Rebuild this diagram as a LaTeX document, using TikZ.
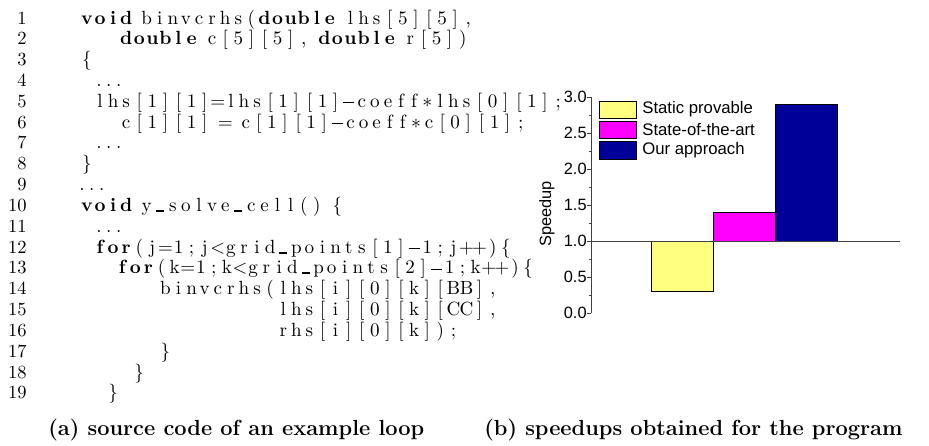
\documentclass[tikz,border=0pt]{standalone}
\usepackage{fontspec}
\newfontfamily\chartfont{Liberation Sans}

% ---------- fixed-column code typesetting ----------
% every character sits centred in a column of width \cw,
% a space (~) takes a narrower fixed skip
\newlength\cw
\newlength\spw
\setlength\cw{7.2pt}
\setlength\spw{4.1pt}
\newcommand\cbox[1]{\hbox to\cw{\hss#1\hss}}
\makeatletter
\def\B{B@kw}\def\R{R@kw}\def\cl@end{E@kw}
\def\cl@loop#1{%
  \ifx#1\cl@end \let\cl@next\relax
  \else
    \ifx#1\B \bfseries
    \else\ifx#1\R \mdseries
    \else\ifx#1~\hbox to\spw{}%
    \else \cbox{#1}%
    \fi\fi\fi
    \let\cl@next\cl@loop
  \fi\cl@next}
\newcommand\codeline[1]{\cl@loop#1\cl@end}
\makeatother
% minus sign, asterisk, underscore and elision dots as the listing prints them
\newcommand\M{\rule[0.235em]{0.58em}{0.04em}}
\newcommand\A{\ensuremath{\ast}}
\newcommand\U{\rule[-0.02em]{0.42em}{0.1em}}
\newcommand\elide{.\kern2.5pt.\kern2.5pt.}

\definecolor{barYellow}{RGB}{255,255,128}
\definecolor{barMagenta}{RGB}{255,0,255}
\definecolor{barBlue}{RGB}{0,0,153}

\begin{document}
\begin{tikzpicture}[x=0.55pt,y=-0.55pt,
  lnum/.style={anchor=base east,inner sep=0pt,font=\fontsize{10.2}{12}\selectfont},
  codeln/.style={anchor=base west,inner sep=0pt,font=\fontsize{10.5}{12.5}\selectfont},
  tick/.style={anchor=east,inner sep=0pt,font=\chartfont\fontsize{9}{11}\selectfont},
  legtext/.style={anchor=west,inner sep=0pt,font=\chartfont\fontsize{9.2}{11}\selectfont},
  legbox/.style={draw=black,line width=0.5pt},
  bar/.style={draw=black,line width=0.5pt},
  axisline/.style={line width=0.5pt,black!75},
  caption/.style={anchor=base west,inner sep=0pt,font=\fontsize{12}{14}\selectfont\bfseries}]
\useasboundingbox (0,0) rectangle (929,445);

\def\Xo{80}
\def\Cw{13.09}
\def\Yo{24}
\def\Lh{20.83}

% line numbers
\foreach \i in {1,...,19}
  \node[lnum] (n\i) at (27,{\Yo+(\i-1)*\Lh}) {\i};

% code lines, placed by starting column and line
\node[codeln] (c1)  at ({\Xo+0*\Cw},{\Yo+0*\Lh})  {\codeline{\B void\R~binvcrhs(\B double\R~lhs[5][5],}};
\node[codeln] (c2)  at ({\Xo+3*\Cw},{\Yo+1*\Lh})  {\codeline{\B double\R~c[5][5],~\B double\R~r[5])}};
\node[codeln] (c3)  at ({\Xo+0*\Cw},{\Yo+2*\Lh})  {\codeline{\{}};
\node[codeln] (c4)  at (96,{\Yo+3*\Lh})           {\elide};
\node[codeln] (c5)  at ({\Xo+1*\Cw},{\Yo+4*\Lh})  {\codeline{lhs[1][1]=lhs[1][1]\M coeff\A lhs[0][1];}};
\node[codeln] (c6)  at ({\Xo+3*\Cw},{\Yo+5*\Lh})  {\codeline{c[1][1]~=~c[1][1]\M coeff\A c[0][1];}};
\node[codeln] (c7)  at (96,{\Yo+6*\Lh})           {\elide};
\node[codeln] (c8)  at ({\Xo+0*\Cw},{\Yo+7*\Lh})  {\codeline{\}}};
\node[codeln] (c9)  at (79,{\Yo+8*\Lh})           {\elide};
\node[codeln] (c10) at ({\Xo+0*\Cw},{\Yo+9*\Lh})  {\codeline{\B void\R~y\U solve\U cell()~\{}};
\node[codeln] (c11) at (96,{\Yo+10*\Lh})          {\elide};
\node[codeln] (c12) at ({\Xo+1*\Cw},{\Yo+11*\Lh}) {\codeline{\B for\R(j=1;j<grid\U points[1]\M 1;j++)\{}};
\node[codeln] (c13) at ({\Xo+2.7*\Cw},{\Yo+12*\Lh}) {\codeline{\B for\R(k=1;k<grid\U points[2]\M 1;k++)\{}};
\node[codeln] (c14) at ({\Xo+6*\Cw},{\Yo+13*\Lh}) {\codeline{binvcrhs(lhs[i][0][k][BB],}};
\node[codeln] (c15) at ({\Xo+15*\Cw},{\Yo+14*\Lh}) {\codeline{lhs[i][0][k][CC],}};
\node[codeln] (c16) at ({\Xo+15*\Cw},{\Yo+15*\Lh}) {\codeline{rhs[i][0][k]);}};
\node[codeln] (c17) at ({\Xo+6*\Cw},{\Yo+16*\Lh}) {\codeline{\}}};
\node[codeln] (c18) at ({\Xo+4*\Cw},{\Yo+17*\Lh}) {\codeline{\}}};
\node[codeln] (c19) at ({\Xo+2*\Cw},{\Yo+18*\Lh}) {\codeline{\}}};

% ---------- speedup chart ----------
% a value v sits at y = 313 - 72 v
\draw[axisline] (591,313) coordinate (ax0) -- (591,{313-72*3}) coordinate (ax3);
\foreach \v in {0,0.5,...,3.0}
  \draw[axisline] (591,{313-72*\v}) -- ++(-4,0);
\foreach \v in {0.25,0.75,...,2.75}
  \draw[axisline] (591,{313-72*\v}) -- ++(-2.5,0);
\foreach \v/\t in {0/0.0,0.5/0.5,1/1.0,1.5/1.5,2/2.0,2.5/2.5,3/3.0}
  \node[tick] (t\t) at (587,{313-72*\v}) {\t};
\node[rotate=90,inner sep=0pt,font=\chartfont\fontsize{9}{11}\selectfont] (ylab) at (547,214) {Speedup};

% bars grow from the 1.0 baseline
\draw[bar,fill=barYellow]  (651,{313-72*1}) rectangle (713,{313-72*0.3});
\draw[bar,fill=barMagenta] (713,{313-72*1}) rectangle (775,{313-72*1.4});
\draw[bar,fill=barBlue]    (775,{313-72*1}) rectangle (837,{313-72*2.9});
\draw[axisline] (591,{313-72*1}) -- (900,{313-72*1});

% legend
\draw[legbox,fill=barYellow]  (599,101) rectangle (636,118);
\draw[legbox,fill=barMagenta] (599,121) rectangle (636,138);
\draw[legbox,fill=barBlue]    (599,141) rectangle (636,159);
\node[legtext] (lg1) at (642,109.5) {Static provable};
\node[legtext] (lg2) at (642,129.5) {State-of-the-art};
\node[legtext] (lg3) at (642,150) {Our approach};

% captions
\node[caption] (capa) at (48,435) {(a) source code of an example loop};
\node[caption] (capb) at (484,435) {(b) speedups obtained for the program};
\end{tikzpicture}
\end{document}
